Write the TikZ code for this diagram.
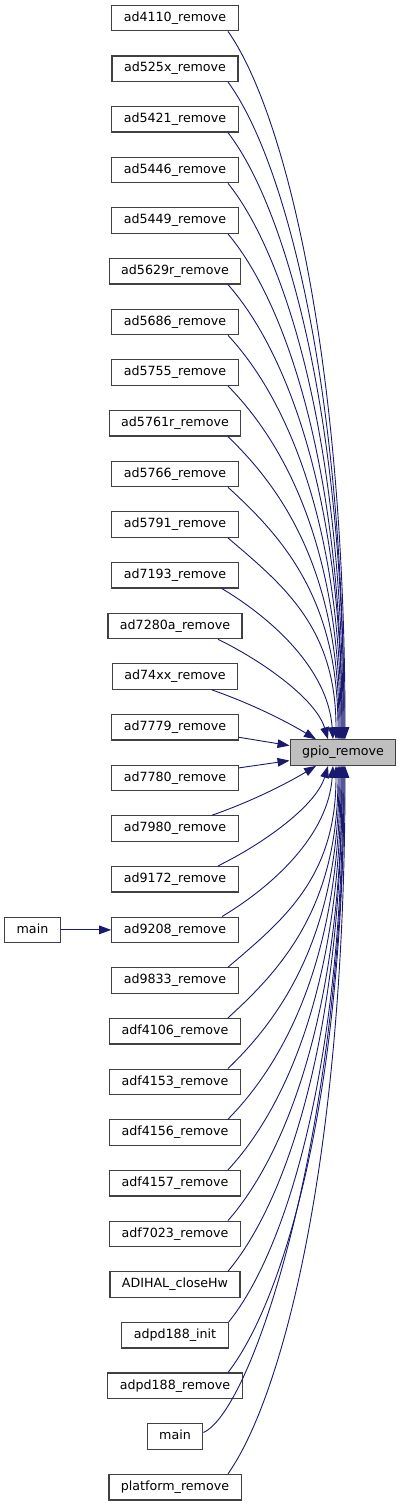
\documentclass[tikz,border=0pt]{standalone}
\usepackage{fontspec}
\setmainfont{DejaVu Sans}
\usepackage{tikz}
\usetikzlibrary{arrows.meta, positioning, calc}
\definecolor{edgeblue}{HTML}{191970}
\definecolor{boxline}{HTML}{404040}
\definecolor{boxgray}{HTML}{BFBFBF}
\tikzset{
    block_white/.style={rectangle, draw=boxline, line width=1.2pt, fill=white, inner xsep=12pt, inner ysep=0pt, minimum height=25.5pt, text height=9.4pt, text depth=2.8pt, font=\fontsize{12.66pt}{15pt}\selectfont},
    block_gray/.style={block_white, fill=boxgray},
    arrow/.style={-{Triangle[length=12pt, width=8.6pt]}, draw=edgeblue, line width=0.9pt}
}
\begin{document}
\begin{tikzpicture}[x=1pt, y=-1pt, node distance=23.96pt and 50.3pt]
\useasboundingbox (0,0) rectangle (401,1507);
            \node (ad4110) [block_white] at (175,18) {ad4110\_remove};
            \node (ad525x) [block_white, below=of ad4110] {ad525x\_remove};
            \node (ad5421) [block_white, below=of ad525x] {ad5421\_remove};
            \node (ad5446) [block_white, below=of ad5421] {ad5446\_remove};
            \node (ad5449) [block_white, below=of ad5446] {ad5449\_remove};
            \node (ad5629r) [block_white, below=of ad5449] {ad5629r\_remove};
            \node (ad5686) [block_white, below=of ad5629r] {ad5686\_remove};
            \node (ad5755) [block_white, below=of ad5686] {ad5755\_remove};
            \node (ad5761r) [block_white, below=of ad5755] {ad5761r\_remove};
            \node (ad5766) [block_white, below=of ad5761r] {ad5766\_remove};
            \node (ad5791) [block_white, below=of ad5766] {ad5791\_remove};
            \node (ad7193) [block_white, below=of ad5791] {ad7193\_remove};
            \node (ad7280a) [block_white, below=of ad7193] {ad7280a\_remove};
            \node (ad74xx) [block_white, below=of ad7280a] {ad74xx\_remove};
            \node (ad7779) [block_white, below=of ad74xx] {ad7779\_remove};
            \node (ad7780) [block_white, below=of ad7779] {ad7780\_remove};
            \node (ad7980) [block_white, below=of ad7780] {ad7980\_remove};
            \node (ad9172) [block_white, below=of ad7980] {ad9172\_remove};
            \node (ad9208) [block_white, below=of ad9172] {ad9208\_remove};
            \node (ad9833) [block_white, below=of ad9208] {ad9833\_remove};
            \node (adf4106) [block_white, below=of ad9833] {adf4106\_remove};
            \node (adf4153) [block_white, below=of adf4106] {adf4153\_remove};
            \node (adf4156) [block_white, below=of adf4153] {adf4156\_remove};
            \node (adf4157) [block_white, below=of adf4156] {adf4157\_remove};
            \node (adf7023) [block_white, below=of adf4157] {adf7023\_remove};
            \node (adihal) [block_white, below=of adf7023] {ADIHAL\_closeHw};
            \node (adpd188init) [block_white, below=of adihal] {adpd188\_init};
            \node (adpd188rm) [block_white, below=of adpd188init] {adpd188\_remove};
            \node (mainb) [block_white, below=of adpd188rm] {main};
            \node (platform) [block_white, below=of mainb] {platform\_remove};
            \node (maina) [block_white, left=of ad9208] {main};
            \node (gpio) [block_gray, xshift=168pt] at ($(ad7779)!0.5!(ad7780)$) {gpio\_remove};

            \draw [arrow] (maina) -- (ad9208);
            % callers above
            \draw [arrow] ($(ad4110.south)+(53,0)$) .. controls +(55,78) and +(0,-390) .. ([xshift=2pt]gpio.north);
            \draw [arrow] ($(ad525x.south)+(53,0)$) .. controls +(55,75) and +(0,-362) .. ([xshift=1pt]gpio.north);
            \draw [arrow] ($(ad5421.south)+(53,0)$) .. controls +(55,71) and +(0,-334) .. ([xshift=1pt]gpio.north);
            \draw [arrow] ($(ad5446.south)+(53,0)$) .. controls +(55,68) and +(0,-307) .. (gpio.north);
            \draw [arrow] ($(ad5449.south)+(53,0)$) .. controls +(55,65) and +(0,-279) .. ([xshift=-1pt]gpio.north);
            \draw [arrow] ($(ad5629r.south)+(53,0)$) .. controls +(55,62) and +(0,-251) .. ([xshift=-1pt]gpio.north);
            \draw [arrow] ($(ad5686.south)+(53,0)$) .. controls +(55,59) and +(0,-223) .. ([xshift=-2pt]gpio.north);
            \draw [arrow] ($(ad5755.south)+(53,0)$) .. controls +(55,56) and +(0,-195) .. ([xshift=-3pt]gpio.north);
            \draw [arrow] ($(ad5761r.south)+(53,0)$) .. controls +(55,53) and +(0,-167) .. ([xshift=-4pt]gpio.north);
            \draw [arrow] ($(ad5766.south)+(53,0)$) .. controls +(55,50) and +(0,-140) .. ([xshift=-5pt]gpio.north);
            \draw [arrow] ($(ad5791.south)+(53,0)$) .. controls +(55,47) and +(0,-112) .. ([xshift=-7pt]gpio.north);
            \draw [arrow] ($(ad7193.south)+(47,0)$) .. controls +(50,30) and +(-5,-70) .. ([xshift=-10pt]gpio.north);
            \draw [arrow] ($(ad7280a.south)+(43,0)$) .. controls +(45,22) and +(-12,-40) .. ([xshift=-15pt]gpio.north);
            \draw [arrow] ($(ad74xx.south)+(37,0)$) .. controls +(40,14) and +(-30,-18) .. ([xshift=-27pt]gpio.north);
            \draw [arrow] ($(ad7779.east)+(0,10)$) -- ($(gpio.west)+(0,-7)$);
            % callers below
            \draw [arrow] ($(ad7780.east)+(0,-10)$) -- ($(gpio.west)+(0,8)$);
            \draw [arrow] ($(ad7980.north)+(37,0)$) .. controls +(40,-14) and +(-30,18) .. ([xshift=-27pt]gpio.south);
            \draw [arrow] ($(ad9172.north)+(43,0)$) .. controls +(45,-22) and +(-12,40) .. ([xshift=-15pt]gpio.south);
            \draw [arrow] ($(ad9208.north)+(47,0)$) .. controls +(50,-30) and +(-5,70) .. ([xshift=-10pt]gpio.south);
            \draw [arrow] ($(ad9833.north)+(53,0)$) .. controls +(55,-47) and +(0,112) .. ([xshift=-7pt]gpio.south);
            \draw [arrow] ($(adf4106.north)+(53,0)$) .. controls +(55,-50) and +(0,140) .. ([xshift=-5pt]gpio.south);
            \draw [arrow] ($(adf4153.north)+(53,0)$) .. controls +(55,-53) and +(0,167) .. ([xshift=-4pt]gpio.south);
            \draw [arrow] ($(adf4156.north)+(53,0)$) .. controls +(55,-56) and +(0,195) .. ([xshift=-3pt]gpio.south);
            \draw [arrow] ($(adf4157.north)+(53,0)$) .. controls +(55,-59) and +(0,223) .. ([xshift=-2pt]gpio.south);
            \draw [arrow] ($(adf7023.north)+(53,0)$) .. controls +(55,-62) and +(0,251) .. ([xshift=-1pt]gpio.south);
            \draw [arrow] ($(adihal.north)+(53,0)$) .. controls +(55,-65) and +(0,279) .. ([xshift=-1pt]gpio.south);
            \draw [arrow] (adpd188init.north east) .. controls +(55,-68) and +(0,307) .. (gpio.south);
            \draw [arrow] ($(adpd188rm.north)+(53,0)$) .. controls +(55,-71) and +(0,334) .. ([xshift=1pt]gpio.south);
            \draw [arrow] ($(mainb.east)+(0,-4)$) .. controls +(50,-22) and +(0,362) .. ([xshift=1pt]gpio.south);
            \draw [arrow] ($(platform.north)+(53,0)$) .. controls +(55,-78) and +(0,390) .. ([xshift=2pt]gpio.south);
\end{tikzpicture}
\end{document}
